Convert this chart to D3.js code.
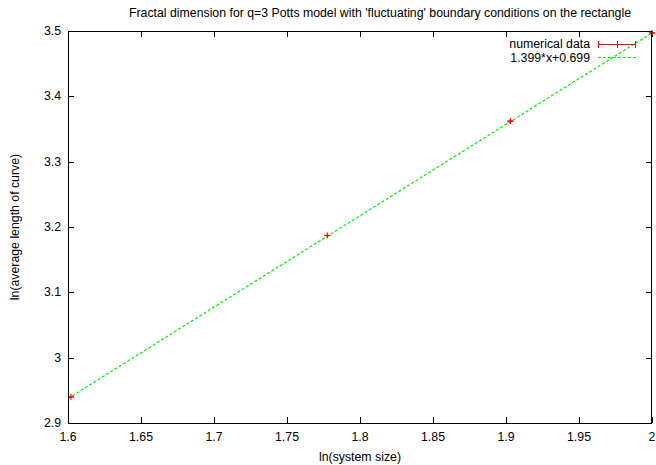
<!DOCTYPE html>
<html><head><meta charset="utf-8">
<script src="https://cdn.jsdelivr.net/npm/d3@7"></script>
<style>body{margin:0;background:#fff}svg{display:block;font-family:"Liberation Sans",Arial,sans-serif}</style>
</head><body>
<svg id="c" width="656" height="465"></svg>
<script>
const xValues = [1.602, 1.7776, 1.9030, 2.0];
const yValues = [2.940, 3.187, 3.362, 3.497];
const xErr = [0.002, 0.002, 0.002, 0.002];
const xTicks = [1.6, 1.65, 1.7, 1.75, 1.8, 1.85, 1.9, 1.95, 2.0];
const yTicks = [2.9, 3.0, 3.1, 3.2, 3.3, 3.4, 3.5];
const fitSlope = 1.399, fitIntercept = 0.699;
const title = "Fractal dimension for q=3 Potts model with 'fluctuating' boundary conditions on the rectangle";

const svg = d3.select("#c");
const L = 68, R = 652, T = 31, B = 423;
const x = d3.scaleLinear().domain([1.6, 2.0]).range([L, R]);
const y = d3.scaleLinear().domain([2.9, 3.5]).range([B, T]);
const fs = 12.3;
const green = "#00ee00";

// ticks (inward, mirrored)
const tl = 6;
const g = svg.append("g").attr("stroke", "#000").attr("stroke-width", 1);
xTicks.forEach(t => {
  const px = Math.round(x(t)) + 0.5;
  g.append("line").attr("x1", px).attr("x2", px).attr("y1", B).attr("y2", B - tl);
  g.append("line").attr("x1", px).attr("x2", px).attr("y1", T).attr("y2", T + tl);
});
yTicks.forEach(t => {
  const py = Math.round(y(t)) + 0.5;
  g.append("line").attr("x1", L).attr("x2", L + tl).attr("y1", py).attr("y2", py);
  g.append("line").attr("x1", R).attr("x2", R - tl).attr("y1", py).attr("y2", py);
});

// tick labels
svg.append("g").selectAll("text").data(xTicks).join("text")
  .attr("x", d => x(d)).attr("y", B + 18).attr("text-anchor", "middle")
  .attr("font-size", fs).text(d => String(+d.toFixed(2)));
svg.append("g").selectAll("text").data(yTicks).join("text")
  .attr("x", L - 7).attr("y", d => y(d) + 4).attr("text-anchor", "end")
  .attr("font-size", fs).text(d => String(+d.toFixed(1)));

// fit line
const fitPts = [1.6, 2.0].map(v => [v, fitSlope * v + fitIntercept]);
svg.append("path").attr("d", d3.line().x(d => x(d[0])).y(d => y(d[1]))(fitPts))
  .attr("fill", "none").attr("stroke", green).attr("stroke-width", 1.2)
  .attr("stroke-dasharray", "3,2");

// data points
const pts = svg.append("g").attr("stroke", "#ff0000").attr("stroke-width", 1.2);
xValues.forEach((v, i) => {
  const px = x(v), py = y(yValues[i]);
  pts.append("line").attr("x1", px - 3).attr("x2", px + 3).attr("y1", py).attr("y2", py);
  pts.append("line").attr("x1", px).attr("x2", px).attr("y1", py - 3).attr("y2", py + 3);
  pts.append("line").attr("x1", x(v - xErr[i])).attr("x2", x(v + xErr[i])).attr("y1", py).attr("y2", py);
});

// frame
svg.append("rect").attr("x", L + 0.5).attr("y", T + 0.5).attr("width", R - L - 1).attr("height", B - T)
  .attr("fill", "none").attr("stroke", "#000").attr("stroke-width", 1);

// legend
const lx1 = 598, lx2 = 636, ly1 = 44, ly2 = 57;
svg.append("text").attr("x", 590).attr("y", ly1 + 4).attr("text-anchor", "end").attr("font-size", fs).text("numerical data");
svg.append("text").attr("x", 590).attr("y", ly2 + 5).attr("text-anchor", "end").attr("font-size", fs).text(fitSlope + "*x+" + fitIntercept);
const lg = svg.append("g").attr("stroke", "#ff0000").attr("stroke-width", 1).attr("shape-rendering", "crispEdges");
lg.append("line").attr("x1", lx1).attr("x2", lx2).attr("y1", ly1 + 0.5).attr("y2", ly1 + 0.5);
lg.append("line").attr("x1", lx1 + 0.5).attr("x2", lx1 + 0.5).attr("y1", ly1 - 3).attr("y2", ly1 + 4);
lg.append("line").attr("x1", lx2 - 0.5).attr("x2", lx2 - 0.5).attr("y1", ly1 - 3).attr("y2", ly1 + 4);
lg.append("line").attr("x1", 617.5).attr("x2", 617.5).attr("y1", ly1 - 3).attr("y2", ly1 + 4);
svg.append("line").attr("x1", lx1).attr("x2", lx2).attr("y1", ly2 + 0.5).attr("y2", ly2 + 0.5)
  .attr("stroke", "#00ff00").attr("stroke-width", 1).attr("shape-rendering", "crispEdges").attr("stroke-dasharray", "3,2");

// titles
svg.append("text").attr("x", 380).attr("y", 17).attr("text-anchor", "middle").attr("font-size", fs).text(title);
svg.append("text").attr("x", 360).attr("y", 461).attr("text-anchor", "middle").attr("font-size", fs).text("ln(system size)");
svg.append("text").attr("transform", "translate(19,227) rotate(-90)").attr("text-anchor", "middle").attr("font-size", fs).text("ln(average length of curve)");
</script>
</body></html>
